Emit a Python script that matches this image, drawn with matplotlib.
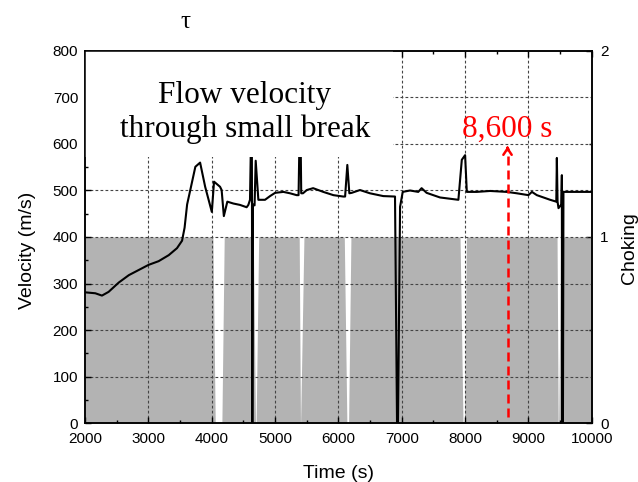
import matplotlib
matplotlib.use('Agg')
import matplotlib.pyplot as plt
from matplotlib.patches import Rectangle
from matplotlib.ticker import MultipleLocator

# velocity through the small break (m/s)
time_v = [2000, 2160, 2265, 2370, 2530, 2690, 2845, 3000, 3160, 3320, 3450, 3530,
          3570, 3610, 3660, 3740, 3815, 3895, 4000, 4035, 4130, 4155, 4190, 4245,
          4340, 4445, 4550, 4577, 4603, 4622, 4632, 4640, 4650, 4675, 4693, 4735,
          4840, 4920, 5000, 5130, 5235, 5340, 5370, 5388, 5400, 5412, 5440, 5500,
          5600, 5760, 5920, 6075, 6105, 6140, 6172, 6210, 6340, 6497, 6707, 6893,
          6925, 6940, 6973, 7015, 7130, 7260, 7313, 7392, 7497, 7604, 7894, 7948,
          8000, 8027, 8185, 8395, 8658, 8817, 9000, 9055, 9133, 9343, 9440, 9449,
          9460, 9475, 9520, 9528, 9532, 9545, 9553, 10000]
velocity = [281, 279, 274, 282, 302, 318, 329, 340, 348, 361, 376, 392,
            420, 470, 501, 551, 560, 508, 454, 519, 508, 501, 445, 476,
            472, 469, 464, 469, 480, 640, 640, 0, 470, 468, 564, 480,
            480, 488, 495, 497, 494, 490, 490, 640, 640, 494, 494, 501,
            505, 497, 490, 487, 487, 555, 494, 495, 501, 494, 488, 487,
            0, 0, 465, 497, 500, 497, 505, 495, 490, 485, 480, 566,
            576, 497, 497, 499, 497, 494, 490, 497, 490, 480, 476, 570,
            476, 462, 470, 533, 0, 0, 497, 497]

# choking flag (1 = choked)
time_c = [2000, 4017, 4054, 4159, 4196, 4655, 4690, 4700, 4740, 5380, 5400, 5402,
          5455, 6092, 6133, 6160, 6197, 7920, 7967, 7990, 8020, 9452, 9470, 9478,
          9510, 10000]
choking = [1, 1, 0, 0, 1, 1, 0, 0, 1, 1, 0, 0,
           1, 1, 0, 0, 1, 1, 0, 0, 1, 1, 0, 0,
           1, 1]

xticks = [3000, 4000, 5000, 6000, 7000, 8000, 9000]
yticks = [100, 200, 300, 400, 500, 600, 700]
marker_time = 8670

sans = ['Liberation Sans', 'DejaVu Sans']
serif = ['Liberation Serif', 'DejaVu Serif']
plt.rcParams['font.family'] = sans

fig = plt.figure(figsize=(6.38, 4.82), dpi=100)
ax = fig.add_axes([0.1335, 0.1224, 0.794, 0.7718])
ax2 = ax.twinx()
ax.set_zorder(ax2.get_zorder() + 1)
ax.patch.set_visible(False)

# choking shading on the right axis
ax2.fill_between(time_c, 0, choking, color='#b3b3b3', lw=0)
ax2.set_ylim(0, 2)
ax2.set_yticks([0, 1, 2])
ax2.yaxis.set_minor_locator(MultipleLocator(0.5))
ax2.set_ylabel('Choking', fontsize=14)
ax2.yaxis.set_label_coords(1.057, 0.47)

# dotted grid
ax.vlines(xticks, 0, 800, colors='#444444', linestyles=(0, (2.5, 2)), lw=0.8, zorder=1)
ax.hlines(yticks, 2000, 10000, colors='#444444', linestyles=(0, (2.5, 2)), lw=0.8, zorder=1)

ax.plot(time_v, velocity, color='black', lw=1.5, zorder=2)

# white box behind the caption
ax.add_patch(Rectangle((2000, 572), 6862 - 2000, 228, fc='white', ec='none', zorder=2.3))
ax.text(4524, 667, 'Flow velocity\nthrough small break', ha='center', va='center',
        fontsize=22.5, family=serif, zorder=3)

# 8,600 s marker
ax.plot([marker_time, marker_time], [12, 592], color='red', lw=1.8,
        dashes=(3.6, 2), zorder=3)
ax.annotate('', xy=(marker_time, 601), xytext=(marker_time, 585),
            arrowprops=dict(arrowstyle='->,head_length=0.45,head_width=0.3',
                            color='red', lw=1.8), zorder=3)
ax.text(8660, 615, '8,600 s', ha='center', va='baseline', fontsize=22.5,
        family=serif, color='red', zorder=3)

ax.set_xlim(2000, 10000)
ax.set_ylim(0, 800)
ax.xaxis.set_major_locator(MultipleLocator(1000))
ax.xaxis.set_minor_locator(MultipleLocator(500))
ax.yaxis.set_major_locator(MultipleLocator(100))
ax.yaxis.set_minor_locator(MultipleLocator(50))
ax.set_xlabel('Time (s)', fontsize=14)
ax.set_ylabel('Velocity (m/s)', fontsize=14)
ax.xaxis.set_label_coords(0.5, -0.112)
ax.yaxis.set_label_coords(-0.097, 0.465)

ax.tick_params(which='both', direction='in', top=True, right=False, labelsize=11)
ax.tick_params(which='major', length=4, width=1, pad=5)
ax.tick_params(which='minor', length=2.5, width=1)
ax.tick_params(axis='x', pad=6.5)
ax2.tick_params(which='both', direction='in', labelsize=11)
ax2.tick_params(which='major', length=4, width=1, pad=6)
ax2.tick_params(which='minor', length=2.5, width=1)
for a in (ax, ax2):
    for s in a.spines.values():
        s.set_linewidth(1.1)

fig.text(0.29, 0.955, 'τ', ha='center', va='center', fontsize=18, family=serif)

fig.savefig('out.png', dpi=100)
